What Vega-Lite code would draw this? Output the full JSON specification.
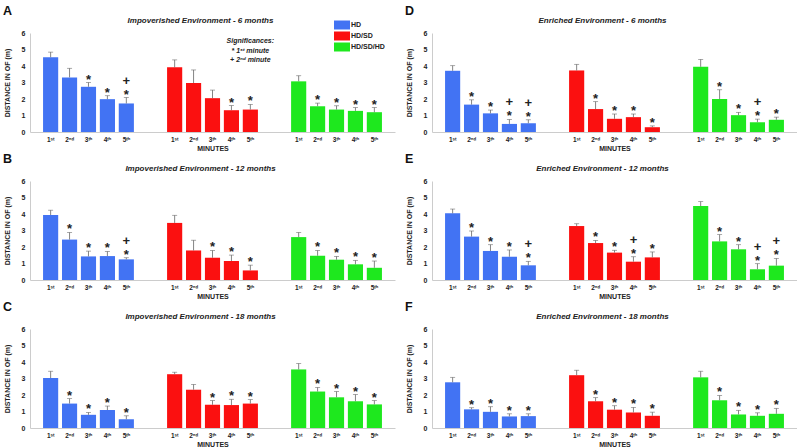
{
"$schema": "https://vega.github.io/schema/vega-lite/v6.json",
"padding": {"left": 3, "top": 4, "right": 0, "bottom": 0},
"config": {
  "view": {"stroke": null},
  "font": "Liberation Sans",
  "title": {"fontSize": 8, "fontStyle": "italic", "fontWeight": "bold", "color": "#222", "offset": 4, "dx": -12},
  "axis": {"grid": false, "ticks": false, "domainColor": "#cccccc", "labelFontSize": 7, "labelFontWeight": "bold", "labelColor": "#222", "titleFontSize": 7, "titleFontWeight": "bold", "titleColor": "#222", "labelOverlap": false},
  "axisX": {"labels": false, "titlePadding": 12},
  "axisY": {"labelPadding": 5, "titlePadding": 11},
  "legend": {"orient": "none", "legendX": 307, "legendY": -13, "title": null, "symbolType": "M-1.6,-0.9H1.6V0.9H-1.6Z", "symbolSize": 100, "symbolStrokeWidth": 0, "labelFontSize": 7, "labelFontWeight": "bold", "labelColor": "#222", "rowPadding": 1, "labelOffset": 4, "padding": 0},
  "concat": {"spacing": 10}
},
"datasets": {
"A": [
{"group":"HD","minute":"1ˢᵗ","mean":4.53,"upper":4.84,"star":"","plus":""},
{"group":"HD","minute":"2ⁿᵈ","mean":3.31,"upper":3.86,"star":"","plus":""},
{"group":"HD","minute":"3ᵗʰ","mean":2.74,"upper":3.0,"star":"*","plus":""},
{"group":"HD","minute":"4ᵗʰ","mean":1.99,"upper":2.2,"star":"*","plus":""},
{"group":"HD","minute":"5ᵗʰ","mean":1.73,"upper":2.09,"star":"*","plus":"+"},
{"group":"HD/SD","minute":"1ˢᵗ","mean":3.92,"upper":4.37,"star":"","plus":""},
{"group":"HD/SD","minute":"2ⁿᵈ","mean":2.97,"upper":3.76,"star":"","plus":""},
{"group":"HD/SD","minute":"3ᵗʰ","mean":2.05,"upper":2.54,"star":"","plus":""},
{"group":"HD/SD","minute":"4ᵗʰ","mean":1.32,"upper":1.6,"star":"*","plus":""},
{"group":"HD/SD","minute":"5ᵗʰ","mean":1.36,"upper":1.67,"star":"*","plus":""},
{"group":"HD/SD/HD","minute":"1ˢᵗ","mean":3.07,"upper":3.41,"star":"","plus":""},
{"group":"HD/SD/HD","minute":"2ⁿᵈ","mean":1.56,"upper":1.75,"star":"*","plus":""},
{"group":"HD/SD/HD","minute":"3ᵗʰ","mean":1.36,"upper":1.59,"star":"*","plus":""},
{"group":"HD/SD/HD","minute":"4ᵗʰ","mean":1.28,"upper":1.48,"star":"*","plus":""},
{"group":"HD/SD/HD","minute":"5ᵗʰ","mean":1.2,"upper":1.48,"star":"*","plus":""}
],
"B": [
{"group":"HD","minute":"1ˢᵗ","mean":3.94,"upper":4.23,"star":"","plus":""},
{"group":"HD","minute":"2ⁿᵈ","mean":2.45,"upper":2.88,"star":"*","plus":""},
{"group":"HD","minute":"3ᵗʰ","mean":1.43,"upper":1.75,"star":"*","plus":""},
{"group":"HD","minute":"4ᵗʰ","mean":1.45,"upper":1.73,"star":"*","plus":""},
{"group":"HD","minute":"5ᵗʰ","mean":1.25,"upper":1.35,"star":"*","plus":"+"},
{"group":"HD/SD","minute":"1ˢᵗ","mean":3.46,"upper":3.92,"star":"","plus":""},
{"group":"HD/SD","minute":"2ⁿᵈ","mean":1.79,"upper":2.41,"star":"","plus":""},
{"group":"HD/SD","minute":"3ᵗʰ","mean":1.35,"upper":1.79,"star":"*","plus":""},
{"group":"HD/SD","minute":"4ᵗʰ","mean":1.15,"upper":1.51,"star":"*","plus":""},
{"group":"HD/SD","minute":"5ᵗʰ","mean":0.58,"upper":0.9,"star":"*","plus":""},
{"group":"HD/SD/HD","minute":"1ˢᵗ","mean":2.6,"upper":2.88,"star":"","plus":""},
{"group":"HD/SD/HD","minute":"2ⁿᵈ","mean":1.47,"upper":1.79,"star":"*","plus":""},
{"group":"HD/SD/HD","minute":"3ᵗʰ","mean":1.23,"upper":1.43,"star":"*","plus":""},
{"group":"HD/SD/HD","minute":"4ᵗʰ","mean":0.95,"upper":1.19,"star":"*","plus":""},
{"group":"HD/SD/HD","minute":"5ᵗʰ","mean":0.74,"upper":1.15,"star":"*","plus":""}
],
"C": [
{"group":"HD","minute":"1ˢᵗ","mean":3.03,"upper":3.44,"star":"","plus":""},
{"group":"HD","minute":"2ⁿᵈ","mean":1.48,"upper":1.78,"star":"*","plus":""},
{"group":"HD","minute":"3ᵗʰ","mean":0.8,"upper":0.94,"star":"*","plus":""},
{"group":"HD","minute":"4ᵗʰ","mean":1.09,"upper":1.33,"star":"*","plus":""},
{"group":"HD","minute":"5ᵗʰ","mean":0.53,"upper":0.74,"star":"*","plus":""},
{"group":"HD/SD","minute":"1ˢᵗ","mean":3.26,"upper":3.38,"star":"","plus":""},
{"group":"HD/SD","minute":"2ⁿᵈ","mean":2.32,"upper":2.64,"star":"","plus":""},
{"group":"HD/SD","minute":"3ᵗʰ","mean":1.41,"upper":1.66,"star":"*","plus":""},
{"group":"HD/SD","minute":"4ᵗʰ","mean":1.39,"upper":1.74,"star":"*","plus":""},
{"group":"HD/SD","minute":"5ᵗʰ","mean":1.48,"upper":1.72,"star":"*","plus":""},
{"group":"HD/SD/HD","minute":"1ˢᵗ","mean":3.55,"upper":3.91,"star":"","plus":""},
{"group":"HD/SD/HD","minute":"2ⁿᵈ","mean":2.21,"upper":2.46,"star":"*","plus":""},
{"group":"HD/SD/HD","minute":"3ᵗʰ","mean":1.86,"upper":2.21,"star":"*","plus":""},
{"group":"HD/SD/HD","minute":"4ᵗʰ","mean":1.62,"upper":2.03,"star":"*","plus":""},
{"group":"HD/SD/HD","minute":"5ᵗʰ","mean":1.43,"upper":1.66,"star":"*","plus":""}
],
"D": [
{"group":"HD","minute":"1ˢᵗ","mean":3.71,"upper":4.02,"star":"","plus":""},
{"group":"HD","minute":"2ⁿᵈ","mean":1.66,"upper":1.95,"star":"*","plus":""},
{"group":"HD","minute":"3ᵗʰ","mean":1.13,"upper":1.33,"star":"*","plus":""},
{"group":"HD","minute":"4ᵗʰ","mean":0.49,"upper":0.76,"star":"*","plus":"+"},
{"group":"HD","minute":"5ᵗʰ","mean":0.53,"upper":0.74,"star":"*","plus":"+"},
{"group":"HD/SD","minute":"1ˢᵗ","mean":3.73,"upper":4.1,"star":"","plus":""},
{"group":"HD/SD","minute":"2ⁿᵈ","mean":1.39,"upper":1.84,"star":"*","plus":""},
{"group":"HD/SD","minute":"3ᵗʰ","mean":0.8,"upper":1.09,"star":"*","plus":""},
{"group":"HD/SD","minute":"4ᵗʰ","mean":0.9,"upper":1.09,"star":"*","plus":""},
{"group":"HD/SD","minute":"5ᵗʰ","mean":0.29,"upper":0.37,"star":"*","plus":""},
{"group":"HD/SD/HD","minute":"1ˢᵗ","mean":3.95,"upper":4.4,"star":"","plus":""},
{"group":"HD/SD/HD","minute":"2ⁿᵈ","mean":2.0,"upper":2.56,"star":"*","plus":""},
{"group":"HD/SD/HD","minute":"3ᵗʰ","mean":1.02,"upper":1.19,"star":"*","plus":""},
{"group":"HD/SD/HD","minute":"4ᵗʰ","mean":0.59,"upper":0.78,"star":"*","plus":"+"},
{"group":"HD/SD/HD","minute":"5ᵗʰ","mean":0.74,"upper":0.9,"star":"*","plus":""}
],
"E": [
{"group":"HD","minute":"1ˢᵗ","mean":4.04,"upper":4.3,"star":"","plus":""},
{"group":"HD","minute":"2ⁿᵈ","mean":2.63,"upper":2.97,"star":"*","plus":""},
{"group":"HD","minute":"3ᵗʰ","mean":1.76,"upper":2.14,"star":"*","plus":""},
{"group":"HD","minute":"4ᵗʰ","mean":1.41,"upper":1.82,"star":"*","plus":""},
{"group":"HD","minute":"5ᵗʰ","mean":0.89,"upper":1.13,"star":"*","plus":"+"},
{"group":"HD/SD","minute":"1ˢᵗ","mean":3.27,"upper":3.41,"star":"","plus":""},
{"group":"HD/SD","minute":"2ⁿᵈ","mean":2.24,"upper":2.4,"star":"*","plus":""},
{"group":"HD/SD","minute":"3ᵗʰ","mean":1.66,"upper":1.8,"star":"*","plus":""},
{"group":"HD/SD","minute":"4ᵗʰ","mean":1.11,"upper":1.41,"star":"*","plus":"+"},
{"group":"HD/SD","minute":"5ᵗʰ","mean":1.37,"upper":1.7,"star":"*","plus":""},
{"group":"HD/SD/HD","minute":"1ˢᵗ","mean":4.48,"upper":4.75,"star":"","plus":""},
{"group":"HD/SD/HD","minute":"2ⁿᵈ","mean":2.34,"upper":2.75,"star":"*","plus":""},
{"group":"HD/SD/HD","minute":"3ᵗʰ","mean":1.86,"upper":2.14,"star":"*","plus":""},
{"group":"HD/SD/HD","minute":"4ᵗʰ","mean":0.65,"upper":0.99,"star":"*","plus":"+"},
{"group":"HD/SD/HD","minute":"5ᵗʰ","mean":0.87,"upper":1.31,"star":"*","plus":"+"}
],
"F": [
{"group":"HD","minute":"1ˢᵗ","mean":2.77,"upper":3.07,"star":"","plus":""},
{"group":"HD","minute":"2ⁿᵈ","mean":1.13,"upper":1.23,"star":"*","plus":""},
{"group":"HD","minute":"3ᵗʰ","mean":0.98,"upper":1.29,"star":"*","plus":""},
{"group":"HD","minute":"4ᵗʰ","mean":0.7,"upper":0.86,"star":"*","plus":""},
{"group":"HD","minute":"5ᵗʰ","mean":0.72,"upper":0.86,"star":"*","plus":""},
{"group":"HD/SD","minute":"1ˢᵗ","mean":3.2,"upper":3.5,"star":"","plus":""},
{"group":"HD/SD","minute":"2ⁿᵈ","mean":1.62,"upper":1.84,"star":"*","plus":""},
{"group":"HD/SD","minute":"3ᵗʰ","mean":1.11,"upper":1.35,"star":"*","plus":""},
{"group":"HD/SD","minute":"4ᵗʰ","mean":0.94,"upper":1.25,"star":"*","plus":""},
{"group":"HD/SD","minute":"5ᵗʰ","mean":0.74,"upper":0.96,"star":"*","plus":""},
{"group":"HD/SD/HD","minute":"1ˢᵗ","mean":3.07,"upper":3.44,"star":"","plus":""},
{"group":"HD/SD/HD","minute":"2ⁿᵈ","mean":1.68,"upper":1.97,"star":"*","plus":""},
{"group":"HD/SD/HD","minute":"3ᵗʰ","mean":0.82,"upper":1.07,"star":"*","plus":""},
{"group":"HD/SD/HD","minute":"4ᵗʰ","mean":0.74,"upper":0.92,"star":"*","plus":""},
{"group":"HD/SD/HD","minute":"5ᵗʰ","mean":0.86,"upper":1.19,"star":"*","plus":""}
]
},
"columns": 2,
"spacing": {"row": 1, "column": 10},
"concat": [
{"title": {"text": "A", "anchor": "start", "frame": "bounds", "fontSize": 12.5, "fontStyle": "normal", "fontWeight": "bold", "color": "#111", "offset": 0, "dx": 0},
 "vconcat": [{
  "width": 365, "height": 99,
  "data": {"name": "A"},
  "title": {"text": "Impoverished Environment - 6 months"},
  "encoding": {
    "x": {"field": "group", "type": "nominal", "scale": {"domain": ["HD", "HD/SD", "HD/SD/HD"], "paddingInner": 0.237, "paddingOuter": 0.09}, "axis": {"title": "MINUTES"}},
    "xOffset": {"field": "minute", "type": "nominal", "scale": {"domain": ["1ˢᵗ", "2ⁿᵈ", "3ᵗʰ", "4ᵗʰ", "5ᵗʰ"], "paddingInner": 0.2, "paddingOuter": 0.1}}
  },
  "layer": [
    {"mark": {"type": "bar"}, "encoding": {
      "y": {"field": "mean", "type": "quantitative", "scale": {"domain": [0, 6], "nice": false}, "axis": {"values": [0, 1, 2, 3, 4, 5, 6], "labelOverlap": false, "title": "DISTANCE IN OF (m)"}},
      "color": {"field": "group", "type": "nominal", "scale": {"domain": ["HD", "HD/SD", "HD/SD/HD"], "range": ["#4273f3", "#fb1010", "#1ee81e"]}}}},
    {"mark": {"type": "rule", "color": "#666", "strokeWidth": 0.8}, "encoding": {"y": {"field": "upper", "type": "quantitative", "axis": {"values": [0, 1, 2, 3, 4, 5, 6], "labelOverlap": false, "title": "DISTANCE IN OF (m)"}}, "y2": {"field": "mean"}}},
    {"mark": {"type": "tick", "color": "#666", "thickness": 0.8, "size": 5}, "encoding": {"y": {"field": "upper", "type": "quantitative", "axis": {"values": [0, 1, 2, 3, 4, 5, 6], "labelOverlap": false, "title": "DISTANCE IN OF (m)"}}}},
    {"mark": {"type": "text", "fontSize": 13, "fontWeight": "bold", "baseline": "alphabetic", "dy": 1, "color": "#222"}, "encoding": {"y": {"field": "upper", "type": "quantitative", "axis": {"values": [0, 1, 2, 3, 4, 5, 6], "labelOverlap": false, "title": "DISTANCE IN OF (m)"}}, "text": {"field": "star"}}},
    {"mark": {"type": "text", "fontSize": 13, "fontWeight": "bold", "baseline": "alphabetic", "dy": -13, "color": "#222"}, "encoding": {"y": {"field": "upper", "type": "quantitative", "axis": {"values": [0, 1, 2, 3, 4, 5, 6], "labelOverlap": false, "title": "DISTANCE IN OF (m)"}}, "text": {"field": "plus"}}},
    {"mark": {"type": "text", "fontSize": 6.5, "fontWeight": "bold", "baseline": "middle", "dy": 8, "color": "#222"}, "encoding": {"y": {"datum": 0, "axis": {"values": [0, 1, 2, 3, 4, 5, 6], "labelOverlap": false, "title": "DISTANCE IN OF (m)"}}, "text": {"field": "minute"}}},
    {"data": {"values": [{}]}, "mark": {"type": "text", "fontSize": 7, "fontStyle": "italic", "fontWeight": "bold", "baseline": "top", "lineHeight": 9.5, "color": "#222"}, "encoding": {"x": {"datum": "HD/SD"}, "xOffset": {"datum": "5ᵗʰ"}, "y": {"datum": 5.75, "axis": {"values": [0, 1, 2, 3, 4, 5, 6], "labelOverlap": false, "title": "DISTANCE IN OF (m)"}}, "text": {"value": ["Significances:", "* 1ˢᵗ minute", "+ 2ⁿᵈ minute"]}}}
  ]
 }]
},
{"title": {"text": "D", "anchor": "start", "frame": "bounds", "fontSize": 12.5, "fontStyle": "normal", "fontWeight": "bold", "color": "#111", "offset": 0, "dx": 0},
 "vconcat": [{
  "width": 365, "height": 99,
  "data": {"name": "D"},
  "title": {"text": "Enriched Environment - 6 months"},
  "encoding": {
    "x": {"field": "group", "type": "nominal", "scale": {"domain": ["HD", "HD/SD", "HD/SD/HD"], "paddingInner": 0.237, "paddingOuter": 0.09}, "axis": {"title": "MINUTES"}},
    "xOffset": {"field": "minute", "type": "nominal", "scale": {"domain": ["1ˢᵗ", "2ⁿᵈ", "3ᵗʰ", "4ᵗʰ", "5ᵗʰ"], "paddingInner": 0.2, "paddingOuter": 0.1}}
  },
  "layer": [
    {"mark": {"type": "bar"}, "encoding": {
      "y": {"field": "mean", "type": "quantitative", "scale": {"domain": [0, 6], "nice": false}, "axis": {"values": [0, 1, 2, 3, 4, 5, 6], "labelOverlap": false, "title": "DISTANCE IN OF (m)"}},
      "color": {"field": "group", "type": "nominal", "scale": {"domain": ["HD", "HD/SD", "HD/SD/HD"], "range": ["#4273f3", "#fb1010", "#1ee81e"]}}}},
    {"mark": {"type": "rule", "color": "#666", "strokeWidth": 0.8}, "encoding": {"y": {"field": "upper", "type": "quantitative", "axis": {"values": [0, 1, 2, 3, 4, 5, 6], "labelOverlap": false, "title": "DISTANCE IN OF (m)"}}, "y2": {"field": "mean"}}},
    {"mark": {"type": "tick", "color": "#666", "thickness": 0.8, "size": 5}, "encoding": {"y": {"field": "upper", "type": "quantitative", "axis": {"values": [0, 1, 2, 3, 4, 5, 6], "labelOverlap": false, "title": "DISTANCE IN OF (m)"}}}},
    {"mark": {"type": "text", "fontSize": 13, "fontWeight": "bold", "baseline": "alphabetic", "dy": 1, "color": "#222"}, "encoding": {"y": {"field": "upper", "type": "quantitative", "axis": {"values": [0, 1, 2, 3, 4, 5, 6], "labelOverlap": false, "title": "DISTANCE IN OF (m)"}}, "text": {"field": "star"}}},
    {"mark": {"type": "text", "fontSize": 13, "fontWeight": "bold", "baseline": "alphabetic", "dy": -13, "color": "#222"}, "encoding": {"y": {"field": "upper", "type": "quantitative", "axis": {"values": [0, 1, 2, 3, 4, 5, 6], "labelOverlap": false, "title": "DISTANCE IN OF (m)"}}, "text": {"field": "plus"}}},
    {"mark": {"type": "text", "fontSize": 6.5, "fontWeight": "bold", "baseline": "middle", "dy": 8, "color": "#222"}, "encoding": {"y": {"datum": 0, "axis": {"values": [0, 1, 2, 3, 4, 5, 6], "labelOverlap": false, "title": "DISTANCE IN OF (m)"}}, "text": {"field": "minute"}}}
  ]
 }]
},
{"title": {"text": "B", "anchor": "start", "frame": "bounds", "fontSize": 12.5, "fontStyle": "normal", "fontWeight": "bold", "color": "#111", "offset": 0, "dx": 0},
 "vconcat": [{
  "width": 365, "height": 99,
  "data": {"name": "B"},
  "title": {"text": "Impoverished Environment - 12 months"},
  "encoding": {
    "x": {"field": "group", "type": "nominal", "scale": {"domain": ["HD", "HD/SD", "HD/SD/HD"], "paddingInner": 0.237, "paddingOuter": 0.09}, "axis": {"title": "MINUTES"}},
    "xOffset": {"field": "minute", "type": "nominal", "scale": {"domain": ["1ˢᵗ", "2ⁿᵈ", "3ᵗʰ", "4ᵗʰ", "5ᵗʰ"], "paddingInner": 0.2, "paddingOuter": 0.1}}
  },
  "layer": [
    {"mark": {"type": "bar"}, "encoding": {
      "y": {"field": "mean", "type": "quantitative", "scale": {"domain": [0, 6], "nice": false}, "axis": {"values": [0, 1, 2, 3, 4, 5, 6], "labelOverlap": false, "title": "DISTANCE IN OF (m)"}},
      "color": {"field": "group", "type": "nominal", "scale": {"domain": ["HD", "HD/SD", "HD/SD/HD"], "range": ["#4273f3", "#fb1010", "#1ee81e"]}}}},
    {"mark": {"type": "rule", "color": "#666", "strokeWidth": 0.8}, "encoding": {"y": {"field": "upper", "type": "quantitative", "axis": {"values": [0, 1, 2, 3, 4, 5, 6], "labelOverlap": false, "title": "DISTANCE IN OF (m)"}}, "y2": {"field": "mean"}}},
    {"mark": {"type": "tick", "color": "#666", "thickness": 0.8, "size": 5}, "encoding": {"y": {"field": "upper", "type": "quantitative", "axis": {"values": [0, 1, 2, 3, 4, 5, 6], "labelOverlap": false, "title": "DISTANCE IN OF (m)"}}}},
    {"mark": {"type": "text", "fontSize": 13, "fontWeight": "bold", "baseline": "alphabetic", "dy": 1, "color": "#222"}, "encoding": {"y": {"field": "upper", "type": "quantitative", "axis": {"values": [0, 1, 2, 3, 4, 5, 6], "labelOverlap": false, "title": "DISTANCE IN OF (m)"}}, "text": {"field": "star"}}},
    {"mark": {"type": "text", "fontSize": 13, "fontWeight": "bold", "baseline": "alphabetic", "dy": -13, "color": "#222"}, "encoding": {"y": {"field": "upper", "type": "quantitative", "axis": {"values": [0, 1, 2, 3, 4, 5, 6], "labelOverlap": false, "title": "DISTANCE IN OF (m)"}}, "text": {"field": "plus"}}},
    {"mark": {"type": "text", "fontSize": 6.5, "fontWeight": "bold", "baseline": "middle", "dy": 8, "color": "#222"}, "encoding": {"y": {"datum": 0, "axis": {"values": [0, 1, 2, 3, 4, 5, 6], "labelOverlap": false, "title": "DISTANCE IN OF (m)"}}, "text": {"field": "minute"}}}
  ]
 }]
},
{"title": {"text": "E", "anchor": "start", "frame": "bounds", "fontSize": 12.5, "fontStyle": "normal", "fontWeight": "bold", "color": "#111", "offset": 0, "dx": 0},
 "vconcat": [{
  "width": 365, "height": 99,
  "data": {"name": "E"},
  "title": {"text": "Enriched Environment - 12 months"},
  "encoding": {
    "x": {"field": "group", "type": "nominal", "scale": {"domain": ["HD", "HD/SD", "HD/SD/HD"], "paddingInner": 0.237, "paddingOuter": 0.09}, "axis": {"title": "MINUTES"}},
    "xOffset": {"field": "minute", "type": "nominal", "scale": {"domain": ["1ˢᵗ", "2ⁿᵈ", "3ᵗʰ", "4ᵗʰ", "5ᵗʰ"], "paddingInner": 0.2, "paddingOuter": 0.1}}
  },
  "layer": [
    {"mark": {"type": "bar"}, "encoding": {
      "y": {"field": "mean", "type": "quantitative", "scale": {"domain": [0, 6], "nice": false}, "axis": {"values": [0, 1, 2, 3, 4, 5, 6], "labelOverlap": false, "title": "DISTANCE IN OF (m)"}},
      "color": {"field": "group", "type": "nominal", "scale": {"domain": ["HD", "HD/SD", "HD/SD/HD"], "range": ["#4273f3", "#fb1010", "#1ee81e"]}}}},
    {"mark": {"type": "rule", "color": "#666", "strokeWidth": 0.8}, "encoding": {"y": {"field": "upper", "type": "quantitative", "axis": {"values": [0, 1, 2, 3, 4, 5, 6], "labelOverlap": false, "title": "DISTANCE IN OF (m)"}}, "y2": {"field": "mean"}}},
    {"mark": {"type": "tick", "color": "#666", "thickness": 0.8, "size": 5}, "encoding": {"y": {"field": "upper", "type": "quantitative", "axis": {"values": [0, 1, 2, 3, 4, 5, 6], "labelOverlap": false, "title": "DISTANCE IN OF (m)"}}}},
    {"mark": {"type": "text", "fontSize": 13, "fontWeight": "bold", "baseline": "alphabetic", "dy": 1, "color": "#222"}, "encoding": {"y": {"field": "upper", "type": "quantitative", "axis": {"values": [0, 1, 2, 3, 4, 5, 6], "labelOverlap": false, "title": "DISTANCE IN OF (m)"}}, "text": {"field": "star"}}},
    {"mark": {"type": "text", "fontSize": 13, "fontWeight": "bold", "baseline": "alphabetic", "dy": -13, "color": "#222"}, "encoding": {"y": {"field": "upper", "type": "quantitative", "axis": {"values": [0, 1, 2, 3, 4, 5, 6], "labelOverlap": false, "title": "DISTANCE IN OF (m)"}}, "text": {"field": "plus"}}},
    {"mark": {"type": "text", "fontSize": 6.5, "fontWeight": "bold", "baseline": "middle", "dy": 8, "color": "#222"}, "encoding": {"y": {"datum": 0, "axis": {"values": [0, 1, 2, 3, 4, 5, 6], "labelOverlap": false, "title": "DISTANCE IN OF (m)"}}, "text": {"field": "minute"}}}
  ]
 }]
},
{"title": {"text": "C", "anchor": "start", "frame": "bounds", "fontSize": 12.5, "fontStyle": "normal", "fontWeight": "bold", "color": "#111", "offset": 0, "dx": 0},
 "vconcat": [{
  "width": 365, "height": 99,
  "data": {"name": "C"},
  "title": {"text": "Impoverished Environment - 18 months"},
  "encoding": {
    "x": {"field": "group", "type": "nominal", "scale": {"domain": ["HD", "HD/SD", "HD/SD/HD"], "paddingInner": 0.237, "paddingOuter": 0.09}, "axis": {"title": "MINUTES"}},
    "xOffset": {"field": "minute", "type": "nominal", "scale": {"domain": ["1ˢᵗ", "2ⁿᵈ", "3ᵗʰ", "4ᵗʰ", "5ᵗʰ"], "paddingInner": 0.2, "paddingOuter": 0.1}}
  },
  "layer": [
    {"mark": {"type": "bar"}, "encoding": {
      "y": {"field": "mean", "type": "quantitative", "scale": {"domain": [0, 6], "nice": false}, "axis": {"values": [0, 1, 2, 3, 4, 5, 6], "labelOverlap": false, "title": "DISTANCE IN OF (m)"}},
      "color": {"field": "group", "type": "nominal", "scale": {"domain": ["HD", "HD/SD", "HD/SD/HD"], "range": ["#4273f3", "#fb1010", "#1ee81e"]}}}},
    {"mark": {"type": "rule", "color": "#666", "strokeWidth": 0.8}, "encoding": {"y": {"field": "upper", "type": "quantitative", "axis": {"values": [0, 1, 2, 3, 4, 5, 6], "labelOverlap": false, "title": "DISTANCE IN OF (m)"}}, "y2": {"field": "mean"}}},
    {"mark": {"type": "tick", "color": "#666", "thickness": 0.8, "size": 5}, "encoding": {"y": {"field": "upper", "type": "quantitative", "axis": {"values": [0, 1, 2, 3, 4, 5, 6], "labelOverlap": false, "title": "DISTANCE IN OF (m)"}}}},
    {"mark": {"type": "text", "fontSize": 13, "fontWeight": "bold", "baseline": "alphabetic", "dy": 1, "color": "#222"}, "encoding": {"y": {"field": "upper", "type": "quantitative", "axis": {"values": [0, 1, 2, 3, 4, 5, 6], "labelOverlap": false, "title": "DISTANCE IN OF (m)"}}, "text": {"field": "star"}}},
    {"mark": {"type": "text", "fontSize": 13, "fontWeight": "bold", "baseline": "alphabetic", "dy": -13, "color": "#222"}, "encoding": {"y": {"field": "upper", "type": "quantitative", "axis": {"values": [0, 1, 2, 3, 4, 5, 6], "labelOverlap": false, "title": "DISTANCE IN OF (m)"}}, "text": {"field": "plus"}}},
    {"mark": {"type": "text", "fontSize": 6.5, "fontWeight": "bold", "baseline": "middle", "dy": 8, "color": "#222"}, "encoding": {"y": {"datum": 0, "axis": {"values": [0, 1, 2, 3, 4, 5, 6], "labelOverlap": false, "title": "DISTANCE IN OF (m)"}}, "text": {"field": "minute"}}}
  ]
 }]
},
{"title": {"text": "F", "anchor": "start", "frame": "bounds", "fontSize": 12.5, "fontStyle": "normal", "fontWeight": "bold", "color": "#111", "offset": 0, "dx": 0},
 "vconcat": [{
  "width": 365, "height": 99,
  "data": {"name": "F"},
  "title": {"text": "Enriched Environment - 18 months"},
  "encoding": {
    "x": {"field": "group", "type": "nominal", "scale": {"domain": ["HD", "HD/SD", "HD/SD/HD"], "paddingInner": 0.237, "paddingOuter": 0.09}, "axis": {"title": "MINUTES"}},
    "xOffset": {"field": "minute", "type": "nominal", "scale": {"domain": ["1ˢᵗ", "2ⁿᵈ", "3ᵗʰ", "4ᵗʰ", "5ᵗʰ"], "paddingInner": 0.2, "paddingOuter": 0.1}}
  },
  "layer": [
    {"mark": {"type": "bar"}, "encoding": {
      "y": {"field": "mean", "type": "quantitative", "scale": {"domain": [0, 6], "nice": false}, "axis": {"values": [0, 1, 2, 3, 4, 5, 6], "labelOverlap": false, "title": "DISTANCE IN OF (m)"}},
      "color": {"field": "group", "type": "nominal", "scale": {"domain": ["HD", "HD/SD", "HD/SD/HD"], "range": ["#4273f3", "#fb1010", "#1ee81e"]}}}},
    {"mark": {"type": "rule", "color": "#666", "strokeWidth": 0.8}, "encoding": {"y": {"field": "upper", "type": "quantitative", "axis": {"values": [0, 1, 2, 3, 4, 5, 6], "labelOverlap": false, "title": "DISTANCE IN OF (m)"}}, "y2": {"field": "mean"}}},
    {"mark": {"type": "tick", "color": "#666", "thickness": 0.8, "size": 5}, "encoding": {"y": {"field": "upper", "type": "quantitative", "axis": {"values": [0, 1, 2, 3, 4, 5, 6], "labelOverlap": false, "title": "DISTANCE IN OF (m)"}}}},
    {"mark": {"type": "text", "fontSize": 13, "fontWeight": "bold", "baseline": "alphabetic", "dy": 1, "color": "#222"}, "encoding": {"y": {"field": "upper", "type": "quantitative", "axis": {"values": [0, 1, 2, 3, 4, 5, 6], "labelOverlap": false, "title": "DISTANCE IN OF (m)"}}, "text": {"field": "star"}}},
    {"mark": {"type": "text", "fontSize": 13, "fontWeight": "bold", "baseline": "alphabetic", "dy": -13, "color": "#222"}, "encoding": {"y": {"field": "upper", "type": "quantitative", "axis": {"values": [0, 1, 2, 3, 4, 5, 6], "labelOverlap": false, "title": "DISTANCE IN OF (m)"}}, "text": {"field": "plus"}}},
    {"mark": {"type": "text", "fontSize": 6.5, "fontWeight": "bold", "baseline": "middle", "dy": 8, "color": "#222"}, "encoding": {"y": {"datum": 0, "axis": {"values": [0, 1, 2, 3, 4, 5, 6], "labelOverlap": false, "title": "DISTANCE IN OF (m)"}}, "text": {"field": "minute"}}}
  ]
 }]
}
]
}
